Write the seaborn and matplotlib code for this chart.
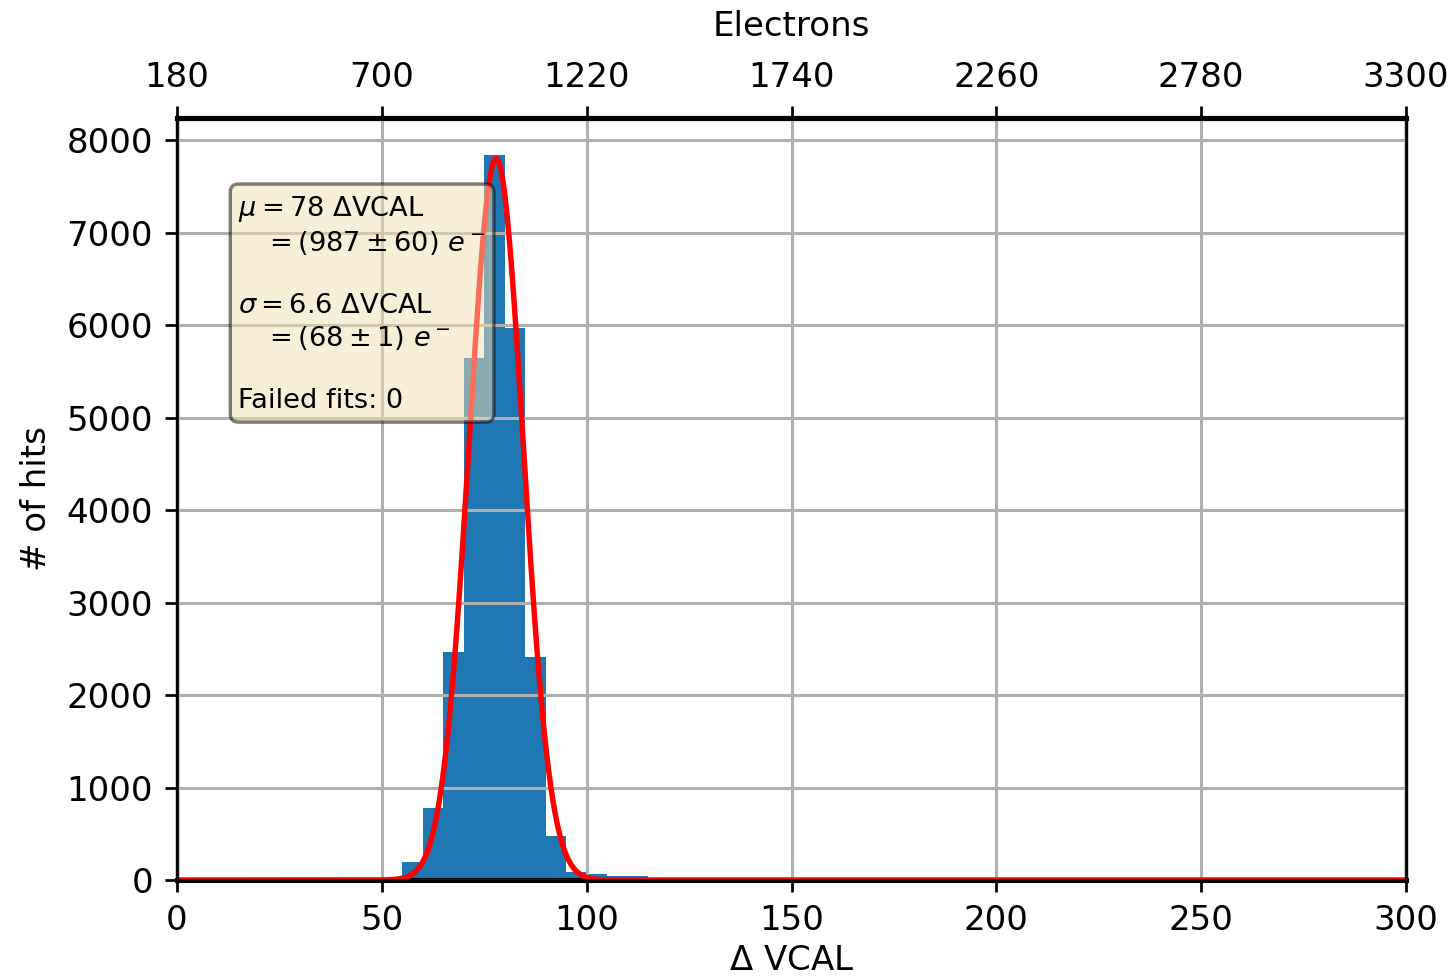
import numpy as np
import pandas as pd
import matplotlib
matplotlib.use("Agg")
import matplotlib.pyplot as plt
import seaborn as sns

# ---- data ----
bin_left = [55, 60, 65, 70, 75, 80, 85, 90, 95, 100, 105, 110]
bin_counts = [190, 775, 2470, 5640, 7840, 5970, 2415, 475, 90, 70, 40, 40]
bin_width = 5

fit_mu = 77.9
fit_sigma = 6.6
fit_amp = 7800

bottom_ticks = [0, 50, 100, 150, 200, 250, 300]
top_tick_labels = ["180", "700", "1220", "1740", "2260", "2780", "3300"]
y_ticks = [0, 1000, 2000, 3000, 4000, 5000, 6000, 7000, 8000]

box_text = ("$\\mu = 78$ $\\Delta$VCAL\n"
            "   $= (987 \\pm 60)\\ e^-$\n\n"
            "$\\sigma = 6.6$ $\\Delta$VCAL\n"
            "   $= (68 \\pm 1)\\ e^-$\n\n"
            "Failed fits: 0")

# ---- figure ----
dpi = 245
fig = plt.figure(figsize=(1455 / dpi, 977 / dpi), dpi=dpi)
ax = fig.add_axes([177 / 1455, 1 - 880 / 977, (1406 - 177) / 1455, (880 - 118) / 977])

edges = list(bin_left) + [bin_left[-1] + bin_width]
centers = [b + bin_width / 2 for b in bin_left]
df = pd.DataFrame({"x": centers, "w": bin_counts})
sns.histplot(data=df, x="x", weights="w", bins=edges, ax=ax,
             color="#1f77b4", alpha=1.0, linewidth=0, zorder=1)

xs = np.linspace(0, 300, 3001)
ys = fit_amp * np.exp(-(xs - fit_mu) ** 2 / (2 * fit_sigma ** 2))
sns.lineplot(x=xs, y=ys, ax=ax, color="red", linewidth=1.6, zorder=3)

ax.set_xlim(0, 300)
ax.set_ylim(0, 8240)
ax.set_xticks(bottom_ticks)
ax.set_yticks(y_ticks)
ax.grid(True, color="#b0b0b0", linewidth=0.9, zorder=2)
ax.set_axisbelow(False)
ax.set_xlabel("$\\Delta$ VCAL", fontsize=10, labelpad=2)
ax.set_ylabel("# of hits", fontsize=10)
ax.tick_params(labelsize=10)
for s in ["top", "bottom"]:
    ax.spines[s].set_linewidth(1.5)
for s in ["left", "right"]:
    ax.spines[s].set_linewidth(1.0)

ax2 = ax.twiny()
ax2.set_xlim(ax.get_xlim())
ax2.set_xticks(bottom_ticks)
ax2.set_xticklabels(top_tick_labels)
ax2.set_xlabel("Electrons", fontsize=10, labelpad=7.5)
ax2.tick_params(labelsize=10)
ax2.spines["top"].set_linewidth(1.5)

ax.text(0.05, 0.90, box_text, transform=ax.transAxes, fontsize=8,
        va="top", ha="left", zorder=10, linespacing=1.24,
        bbox=dict(boxstyle="round", facecolor="wheat", alpha=0.5))

fig.savefig("out.png", dpi=dpi)
